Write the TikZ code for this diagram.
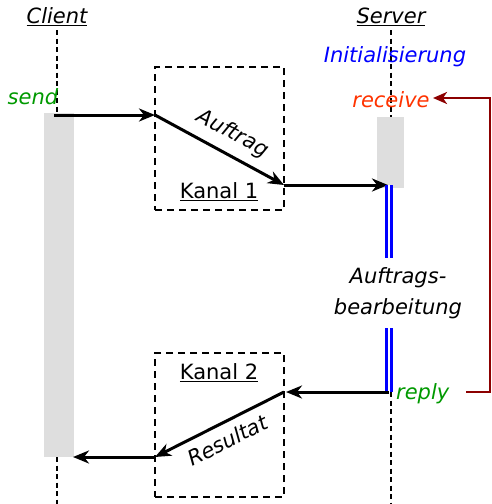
\documentclass[tikz,border=0pt]{standalone}
\usepackage{fontspec}
\setmainfont{DejaVu Sans}
\usetikzlibrary{arrows.meta}
\begin{document}
\begin{tikzpicture}[x=1pt,y=-1pt,
  lbl/.style={font=\fontsize{21}{24}\selectfont, inner sep=0pt},
  ilbl/.style={lbl, font=\fontsize{21}{24}\selectfont\itshape},
  life/.style={line width=1.3pt, dash pattern=on 5pt off 3.5pt},
  msg/.style={line width=3pt, -{Stealth[length=16pt,width=13pt,inset=5pt]}},
  bar/.style={fill=black!13, draw=none},
  chan/.style={draw, line width=2pt, dash pattern=on 7pt off 5pt},
  proc/.style={draw=blue, line width=2.6pt, double=white, double distance=2pt}]
\useasboundingbox (0,0) rectangle (491,504);
% headers
\node[lbl] (client) at (57,17) {\underline{\itshape Client}};
\node[lbl] (server) at (391,17) {\underline{\itshape Server}};
% lifelines
\coordinate (cTop) at (57,30);
\coordinate (sTop) at (391,30);
\coordinate (cBot) at (57,504);
\coordinate (sBot) at (391,504);
% bars
\node[bar, minimum width=30pt, minimum height=344pt, inner sep=0pt] (cbar) at (59,285) {};
\node[bar, minimum width=27pt, minimum height=71pt, inner sep=0pt] (sbar) at (390.5,152.5) {};
\draw[life] (cTop) -- (cbar.north -| cTop);
\draw[life] (cbar.south -| cBot) -- (cBot);
\draw[life] (sTop) -- (sbar.north -| sTop);
\coordinate (reply) at (389,392);
\draw[life] (reply -| sBot) -- (sBot);
% labels
\node[ilbl, text=blue] (init) at (395,57) {Initialisierung};
\node[ilbl, text=green!60!black] (send) at (33,97) {send};
\node[ilbl, text=red!60!orange] (receive) at (391,100) {receive};
\node[ilbl, text=green!60!black, anchor=west] (replyl) at (396,394) {reply};
% channel boxes
\node[chan, minimum width=129pt, minimum height=143pt, inner sep=0pt] (k1) at (219.5,138.5) {};
\node[chan, minimum width=129pt, minimum height=144pt, inner sep=0pt] (k2) at (219.5,425) {};
\node[lbl] (k1l) at (219,192) {\underline{Kanal 1}};
\node[lbl] (k2l) at (219,373) {\underline{Kanal 2}};
% points
\coordinate (s0) at (54,115);
\coordinate (a1) at (155,115);
\coordinate (a2) at (284,185);
\coordinate (a3) at (388,185);
\coordinate (b0) at (389,392);
\coordinate (b1) at (286,392);
\coordinate (b1s) at (284,392);
\coordinate (b2) at (155,457);
\coordinate (b3) at (73,457);
% request
\draw[msg] (s0) -- (a1);
\draw[msg] (a1) -- (a2) node[midway, sloped, above=9pt, xshift=4pt, ilbl] (auftrag) {Auftrag};
\draw[msg] (a2) -- (a3);
% processing
\coordinate (p0) at (389,185);
\coordinate (p1) at (389,258);
\coordinate (p2) at (389,328);
\node[ilbl, align=center, font=\fontsize{21}{31}\selectfont\itshape] (bearb) at (398,293) {Auftrags-\\bearbeitung};
\draw[proc] (p0) -- (p1);
\draw[proc] (p2) -- (b0);
% reply
\draw[msg] (b0) -- (b1);
\draw[msg] (b1s) -- (b2) node[midway, sloped, below=8pt, ilbl] (resultat) {Resultat};
\draw[msg] (b2) -- (b3);
% loop back
\coordinate (l0) at (466,392);
\coordinate (l1) at (490,392);
\coordinate (l2) at (490,98);
\coordinate (l3) at (433,98);
\draw[red!55!black, line width=2.6pt, -{Stealth[length=14pt,width=12pt,inset=4pt]}] (l0) -- (l1) -- (l2) -- (l3);
\end{tikzpicture}
\end{document}
